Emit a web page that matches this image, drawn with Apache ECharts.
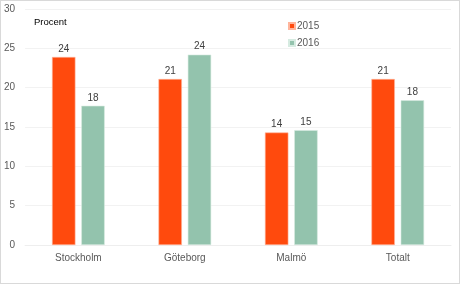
<!DOCTYPE html>
<html>
<head>
<meta charset="utf-8">
<script src="https://cdn.jsdelivr.net/npm/echarts@6/dist/echarts.min.js"></script>
<style>
  html, body { margin: 0; padding: 0; background: #fff; }
  #chart { width: 458px; height: 282px; border: 1px solid #d9d9d9; }
</style>
</head>
<body>
<div id="chart"></div>
<script>
// Andel i procent per stad
const categories = ['Stockholm', 'Göteborg', 'Malmö', 'Totalt'];
const values2015 = [23.9, 21.1, 14.3, 21.1];
const values2016 = [17.7, 24.2, 14.6, 18.4];
const yTicks = [0, 5, 10, 15, 20, 25, 30];

const chart = echarts.init(document.getElementById('chart'));

const labelOpt = {
  show: true,
  position: 'top',
  distance: 3,
  color: '#404040',
  fontSize: 10,
  fontFamily: 'Liberation Sans',
  formatter: p => Math.round(p.value)
};

chart.setOption({
  animation: false,
  textStyle: { fontFamily: 'Liberation Sans' },
  title: {
    text: 'Procent',
    left: 28,
    top: 11,
    textStyle: { fontSize: 9.5, fontWeight: 'normal', color: '#000' }
  },
  legend: {
    orient: 'vertical',
    left: 282,
    top: 15,
    itemWidth: 6,
    itemHeight: 6,
    itemGap: 7,
    icon: 'rect',
    textStyle: { fontSize: 10, color: '#595959', padding: [0, 0, 0, -3] },
    data: ['2015', '2016']
  },
  grid: { left: 23, right: 8, top: 8, bottom: 38 },
  xAxis: {
    type: 'category',
    data: categories,
    axisLine: { lineStyle: { color: '#eeeeee' } },
    axisTick: { show: false },
    axisLabel: { color: '#595959', fontSize: 10, margin: 8 }
  },
  yAxis: {
    type: 'value',
    min: yTicks[0],
    max: yTicks[yTicks.length - 1],
    interval: 5,
    axisLine: { show: false },
    axisTick: { show: false },
    axisLabel: { color: '#595959', fontSize: 10, margin: 10 },
    splitLine: { lineStyle: { color: '#f2f2f2' } }
  },
  series: [
    {
      name: '2015',
      type: 'bar',
      data: values2015,
      barWidth: '22%',
      barGap: '25%',
      itemStyle: { color: '#ff4a0d', borderColor: '#ffb59c', borderWidth: 0.6 },
      label: labelOpt
    },
    {
      name: '2016',
      type: 'bar',
      data: values2016,
      barWidth: '22%',
      itemStyle: { color: '#93c3ad', borderColor: '#d6ebe1', borderWidth: 0.6 },
      label: labelOpt
    }
  ]
});
</script>
</body>
</html>
